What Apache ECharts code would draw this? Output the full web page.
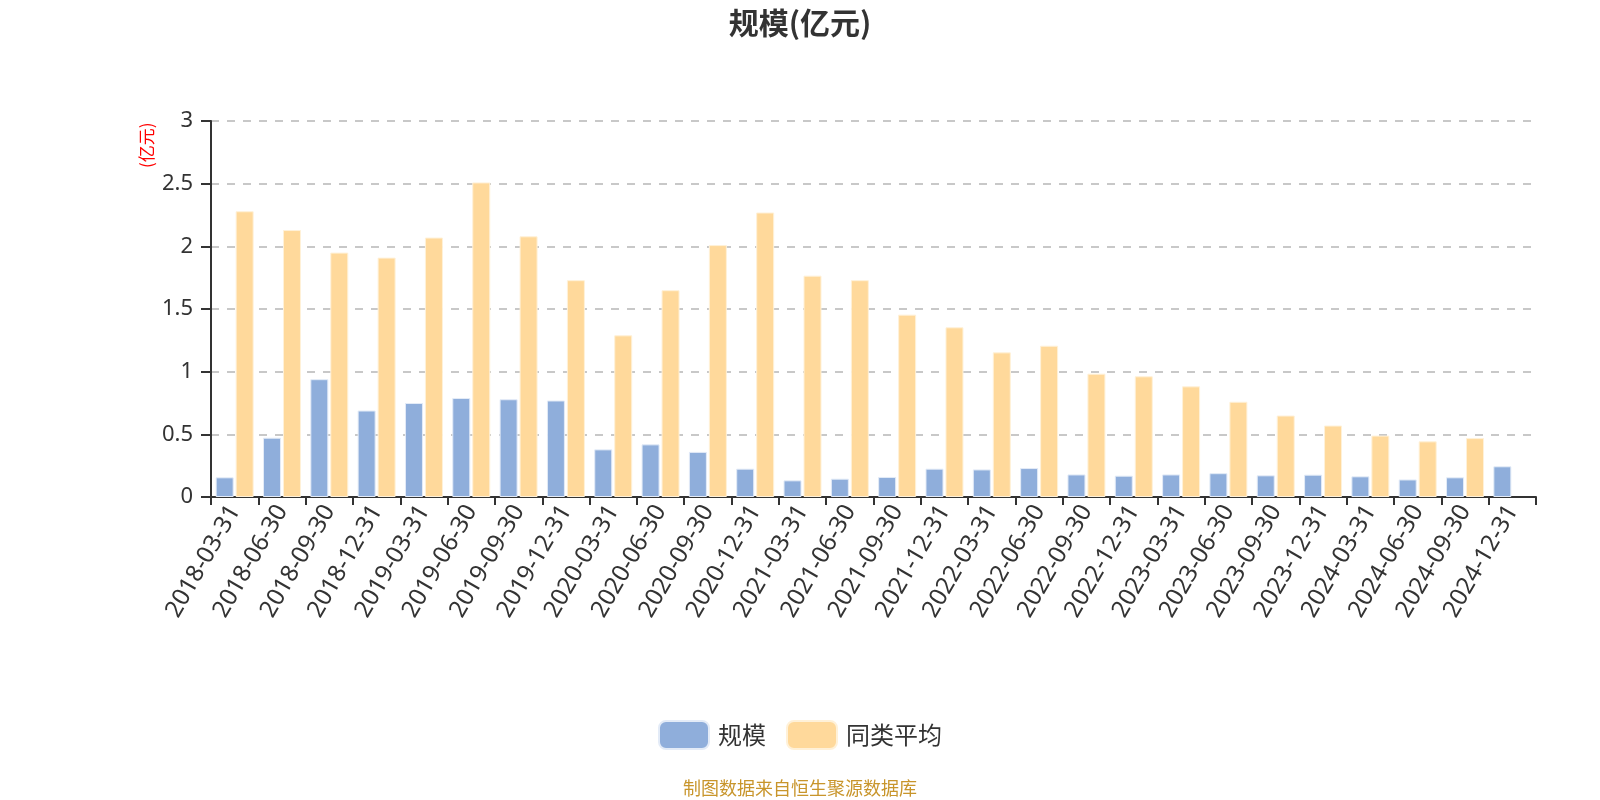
<!DOCTYPE html>
<html>
<head>
<meta charset="utf-8">
<script src="https://cdn.jsdelivr.net/npm/echarts@6/dist/echarts.min.js"></script>
<style>
  html, body { margin: 0; padding: 0; background: #fff; }
  #chart { width: 1600px; height: 800px; }
</style>
</head>
<body>
<div id="chart"></div>
<script>
const dates = [
  "2018-03-31", "2018-06-30", "2018-09-30", "2018-12-31",
  "2019-03-31", "2019-06-30", "2019-09-30", "2019-12-31",
  "2020-03-31", "2020-06-30", "2020-09-30", "2020-12-31",
  "2021-03-31", "2021-06-30", "2021-09-30", "2021-12-31",
  "2022-03-31", "2022-06-30", "2022-09-30", "2022-12-31",
  "2023-03-31", "2023-06-30", "2023-09-30", "2023-12-31",
  "2024-03-31", "2024-06-30", "2024-09-30", "2024-12-31",
];
// 规模 (亿元)
const scale = [
  0.157, 0.473, 0.94, 0.69, 0.75, 0.79, 0.78, 0.77,
  0.38, 0.42, 0.36, 0.226, 0.133, 0.146, 0.16, 0.226,
  0.22, 0.231, 0.18, 0.17, 0.18, 0.19, 0.173, 0.178,
  0.165, 0.14, 0.157, 0.245,
];
// 同类平均 (亿元), last quarter not published
const peerAvg = [
  2.28, 2.13, 1.95, 1.91, 2.07, 2.51, 2.08, 1.73,
  1.29, 1.65, 2.01, 2.27, 1.766, 1.73, 1.455, 1.354,
  1.154, 1.207, 0.984, 0.963, 0.883, 0.76, 0.65, 0.57,
  0.49, 0.444, 0.47, null,
];
const yTicks = { min: 0, max: 3, interval: 0.5 };

const chart = echarts.init(document.getElementById("chart"));

chart.setOption({
  backgroundColor: "#fff",
  animation: false,
  title: {
    text: "规模(亿元)",
    left: "center",
    top: 3,
    textStyle: { fontSize: 30, fontWeight: "bold", color: "#333", fontFamily: "Noto Sans CJK SC" },
  },
  legend: {
    top: 715,
    left: "center",
    itemWidth: 50,
    itemHeight: 28,
    itemGap: 20,
    textStyle: { fontSize: 24, color: "#333", fontFamily: "Noto Sans CJK SC", padding: [0, 0, 0, 4] },
    data: ["规模", "同类平均"],
  },
  graphic: [
    {
      type: "text",
      left: "center",
      top: 779,
      style: { text: "制图数据来自恒生聚源数据库", fill: "#c8952b", fontSize: 18, fontFamily: "Noto Sans CJK SC" },
    },
    {
      type: "text",
      x: 138,
      y: 168,
      rotation: Math.PI / 2,
      style: { text: "(亿元)", fill: "#ff0000", fontSize: 17, fontFamily: "Noto Sans CJK SC" },
    },
  ],
  grid: { left: 211, right: 64, top: 121, bottom: 303, containLabel: false },
  xAxis: {
    type: "category",
    data: dates,
    boundaryGap: true,
    axisLine: { lineStyle: { color: "#333", width: 2 } },
    axisTick: { show: true, length: 8, lineStyle: { color: "#333", width: 2 } },
    axisLabel: {
      interval: 0,
      rotate: 60,
      fontSize: 24,
      color: "#333",
      margin: 10,
      fontFamily: "Noto Sans",
    },
  },
  yAxis: {
    type: "value",
    min: yTicks.min,
    max: yTicks.max,
    interval: yTicks.interval,
    axisLine: { show: true, lineStyle: { color: "#333", width: 2 } },
    axisTick: { show: true, length: 10, lineStyle: { color: "#333", width: 2 } },
    axisLabel: { fontSize: 22, color: "#333", margin: 18, fontFamily: "Noto Sans" },
    splitLine: { lineStyle: { color: "#c8c8c8", type: [8, 8], width: 2 } },
  },
  series: [
    {
      name: "规模",
      type: "bar",
      data: scale,
      barWidth: 18,
      barGap: "11%",
      itemStyle: { color: "#8faedb", borderColor: "#e3ebf7", borderWidth: 1 },
    },
    {
      name: "同类平均",
      type: "bar",
      data: peerAvg,
      barWidth: 18,
      barGap: "11%",
      itemStyle: { color: "#ffd99b", borderColor: "#fff1d8", borderWidth: 1 },
    },
  ],
});
</script>
</body>
</html>
